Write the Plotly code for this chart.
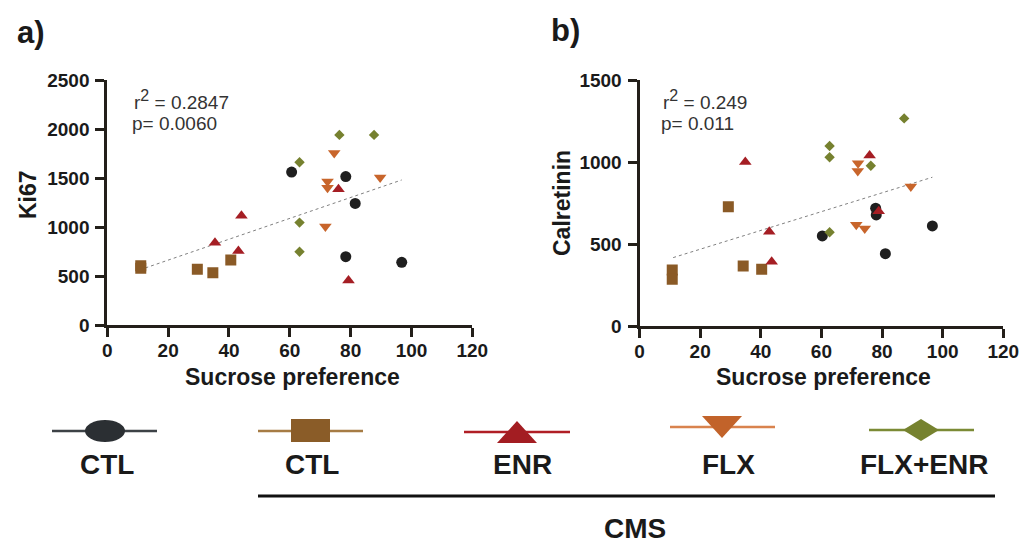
import plotly.graph_objects as go

W, H = 1033, 543

# ---------------- data ----------------
groups = ["CTL", "CMS CTL", "CMS ENR", "CMS FLX", "CMS FLX+ENR"]

# Panel a: Ki67 vs sucrose preference
a_ctl_x = [60.6, 78.4, 81.5, 78.4, 96.8]
a_ctl_y = [1560, 1515, 1240, 697, 640]
a_cms_ctl_x = [11.0, 11.0, 29.6, 34.7, 40.6]
a_cms_ctl_y = [580, 605, 568, 534, 663]
a_enr_x = [35.4, 44.1, 43.1, 76.0, 79.3]
a_enr_y = [840, 1115, 755, 1385, 455]
a_flx_x = [74.6, 72.4, 72.4, 89.7, 71.7]
a_flx_y = [1755, 1465, 1400, 1505, 1005]
a_fe_x = [76.3, 87.7, 63.2, 63.2, 63.2]
a_fe_y = [1940, 1940, 1660, 1045, 748]
a_fit_x = [12.5, 96.8]
a_fit_y = [582, 1480]

# Panel b: Calretinin vs sucrose preference
b_ctl_x = [60.3, 77.9, 78.1, 81.1, 96.6]
b_ctl_y = [549, 718, 677, 441, 610]
b_cms_ctl_x = [10.8, 10.8, 29.3, 34.2, 40.3]
b_cms_ctl_y = [341, 285, 727, 366, 346]
b_enr_x = [34.9, 75.9, 78.9, 42.8, 43.6]
b_enr_y = [1000, 1040, 700, 575, 392]
b_flx_x = [72.1, 72.0, 89.5, 71.5, 74.3]
b_flx_y = [992, 945, 850, 618, 594]
b_fe_x = [87.3, 62.7, 62.7, 76.3, 62.7]
b_fe_y = [1266, 1098, 1029, 977, 572]
b_fit_x = [11.1, 96.6]
b_fit_y = [417, 907]

x_ticks = [0, 20, 40, 60, 80, 100, 120]
a_y_ticks = [0, 500, 1000, 1500, 2000, 2500]
b_y_ticks = [0, 500, 1000, 1500]

a_r2 = "0.2847"
a_p = "0.0060"
b_r2 = "0.249"
b_p = "0.011"

legend_labels = ["CTL", "CTL", "ENR", "FLX", "FLX+ENR"]
legend_group_label = "CMS"

# ---------------- styles ----------------
FONT = "Liberation Sans, Arial, Helvetica, sans-serif"
AX = "#231f1a"
col = {"CTL": "#1f1f1f", "CMS CTL": "#8a5a26", "CMS ENR": "#a51e24",
       "CMS FLX": "#c8652b", "CMS FLX+ENR": "#76812f"}
sym = {"CTL": "circle", "CMS CTL": "square", "CMS ENR": "triangle-up",
       "CMS FLX": "triangle-down", "CMS FLX+ENR": "diamond"}
msize = {"CTL": 11, "CMS CTL": 11, "CMS ENR": 11, "CMS FLX": 11, "CMS FLX+ENR": 8}

fig = go.Figure()

panels = [
    ("x", "y", [a_ctl_x, a_cms_ctl_x, a_enr_x, a_flx_x, a_fe_x],
     [a_ctl_y, a_cms_ctl_y, a_enr_y, a_flx_y, a_fe_y], a_fit_x, a_fit_y),
    ("x2", "y2", [b_ctl_x, b_cms_ctl_x, b_enr_x, b_flx_x, b_fe_x],
     [b_ctl_y, b_cms_ctl_y, b_enr_y, b_flx_y, b_fe_y], b_fit_x, b_fit_y),
]
for xa, ya, xs, ys, fx, fy in panels:
    fig.add_trace(go.Scatter(x=fx, y=fy, mode="lines", xaxis=xa, yaxis=ya,
                             line=dict(color="#808080", width=1, dash="dot"),
                             showlegend=False, hoverinfo="skip"))
    for g, gx, gy in zip(groups, xs, ys):
        fig.add_trace(go.Scatter(x=gx, y=gy, mode="markers", xaxis=xa, yaxis=ya,
                                 marker=dict(symbol=sym[g], color=col[g], size=msize[g],
                                             line=dict(width=0)),
                                 name=g, showlegend=False))

# page pixel -> paper fraction
def px(x):
    return x / W

def py(y):
    return 1 - y / H

def bold_ticks(vals):
    return [f"<b>{v}</b>" for v in vals]

axis_common = dict(showline=True, linecolor=AX, linewidth=3, ticks="outside",
                   ticklen=9, tickwidth=3, tickcolor=AX, showgrid=False,
                   zeroline=False, mirror=False, automargin=False,
                   tickfont=dict(family=FONT, size=19, color="#1a1a1a"))

fig.update_layout(
    template="none",
    width=W, height=H, margin=dict(l=0, r=0, t=0, b=0, pad=0, autoexpand=False),
    paper_bgcolor="white", plot_bgcolor="white", showlegend=False,
    xaxis=dict(domain=[px(107.3), px(472.3)], range=[0, 120], tickvals=x_ticks,
               ticktext=bold_ticks(x_ticks), anchor="y", ticklabelstandoff=-3,
               **axis_common),
    yaxis=dict(domain=[py(325), py(80)], range=[0, 2500], tickvals=a_y_ticks,
               ticktext=bold_ticks(a_y_ticks), anchor="x", ticklabelstandoff=2,
               **axis_common),
    xaxis2=dict(domain=[px(639.5), px(1003.3)], range=[0, 120], tickvals=x_ticks,
                ticktext=bold_ticks(x_ticks), anchor="y2", ticklabelstandoff=-3,
                **axis_common),
    yaxis2=dict(domain=[py(326), py(80)], range=[0, 1500], tickvals=b_y_ticks,
                ticktext=bold_ticks(b_y_ticks), anchor="x2", ticklabelstandoff=2,
                **axis_common),
)

ann = []
def text(x, y, s, size, bold=True, angle=0, xanchor="center", color="#1a1a1a"):
    ann.append(dict(x=px(x), y=py(y), xref="paper", yref="paper", text=s,
                    showarrow=False, xanchor=xanchor, yanchor="middle", textangle=angle,
                    font=dict(family=FONT, size=size, color=color,
                              weight="bold" if bold else "normal")))

def r2_text(v):
    return f"r<sup><span style='font-size:16px'>2</span></sup> = {v}"

# panel letters
text(31, 33, "a)", 31)
text(565, 31, "b)", 31)
# axis titles
text(28, 195, "Ki67", 23, angle=-90)
text(562, 203, "Calretinin", 23, angle=-90)
text(292, 377, "Sucrose preference", 23)
text(823, 377, "Sucrose preference", 23)
# stats
text(132, 100, r2_text(a_r2), 19, bold=False, xanchor="left", color="#333333")
text(130, 124, f"p= {a_p}", 19, bold=False, xanchor="left", color="#333333")
text(661, 100, r2_text(b_r2), 19, bold=False, xanchor="left", color="#333333")
text(659, 124, f"p= {b_p}", 19, bold=False, xanchor="left", color="#333333")

# legend labels
leg_cx = [107, 312, 522, 728, 924]
for cx, lab in zip(leg_cx, legend_labels):
    text(cx, 464, lab, 28)
text(635, 528, legend_group_label, 28)
fig.update_layout(annotations=ann)

# legend glyphs (paper coords)
shapes = []
def line(x0, y0, x1, y1, color, width):
    shapes.append(dict(type="line", xref="paper", yref="paper",
                       x0=px(x0), y0=py(y0), x1=px(x1), y1=py(y1),
                       line=dict(color=color, width=width)))

def path(pts, color):
    d = "M " + " L ".join(f"{px(a):.5f},{py(b):.5f}" for a, b in pts) + " Z"
    shapes.append(dict(type="path", xref="paper", yref="paper", path=d,
                       fillcolor=color, line=dict(width=0)))

line(52, 431, 157, 431, "#3d4246", 2.5)
shapes.append(dict(type="circle", xref="paper", yref="paper",
                   x0=px(85), x1=px(125), y0=py(420), y1=py(442),
                   fillcolor="#2b2f33", line=dict(width=0)))
line(258, 431, 363, 431, "#a67c45", 2.5)
shapes.append(dict(type="rect", xref="paper", yref="paper",
                   x0=px(291), x1=px(330), y0=py(419), y1=py(442),
                   fillcolor="#8a5c28", line=dict(width=0)))
line(464, 432, 570, 432, "#b01e25", 2.5)
path([(497, 443), (537, 443), (517, 421)], "#a31d22")
line(670, 427, 775, 427, "#d9834e", 2.5)
path([(702, 416), (742, 416), (722, 438)], "#c2632a")
line(869, 430, 974, 430, "#7b8a35", 2.5)
path([(903, 430), (921, 419), (939, 430), (921, 441)], "#76822f")
line(258, 496, 995, 496, "#111111", 3)
fig.update_layout(shapes=shapes)

fig.write_html(
    "out.html",
    config={"displayModeBar": False},
    post_script="document.body.style.margin='0';document.body.style.overflow='hidden';",
)
